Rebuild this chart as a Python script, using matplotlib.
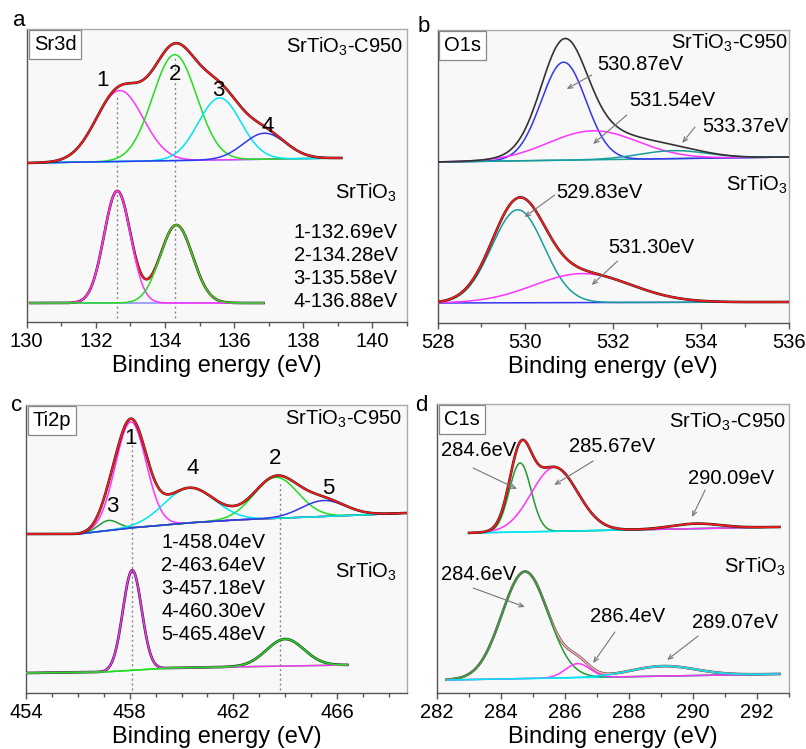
import numpy as np
import matplotlib
matplotlib.use('Agg')
import matplotlib.pyplot as plt
from matplotlib.ticker import MultipleLocator

plt.rcParams['font.family'] = ['Liberation Sans', 'DejaVu Sans']
plt.rcParams['mathtext.fontset'] = 'custom'
plt.rcParams['mathtext.rm'] = 'Liberation Sans'

# ---------------- data (peak parameters) ----------------
# Panel a : Sr3d
a_top_range = [130.0, 139.1]
a_top_bg_x = [130.0, 139.1]
a_top_bg_y = [159, 164]
a_top_centers = [132.69, 134.28, 135.58, 136.88]
a_top_heights = [71, 106, 62, 26]
a_top_fwhm = [1.6, 1.5, 1.45, 1.45]
a_bot_range = [130.1, 136.85]
a_bot_bg_x = [130.1, 136.85]
a_bot_bg_y = [19, 19]
a_bot_centers = [132.62, 134.33]
a_bot_heights = [112, 78]
a_bot_fwhm = [0.9, 1.1]
a_marks = [132.62, 134.3]
a_list = ['1-132.69eV', '2-134.28eV', '3-135.58eV', '4-136.88eV']

# Panel b : O1s
b_top_range = [528.0, 536.0]
b_top_bg_x = [528.0, 536.0]
b_top_bg_y = [161, 166]
b_top_centers = [530.87, 531.54, 533.37]
b_top_heights = [98, 29, 8]
b_top_fwhm = [1.2, 2.4, 1.8]
b_bot_range = [528.0, 536.0]
b_bot_bg_x = [528.0, 536.0]
b_bot_bg_y = [20, 21]
b_bot_centers = [529.83, 531.30]
b_bot_heights = [93, 29]
b_bot_fwhm = [1.4, 2.6]

# Panel c : Ti2p
c_top_range = [454.0, 468.7]
c_top_bg_x = [454.0, 456.0, 458.0, 460.2, 462.0, 466.0, 468.7]
c_top_bg_y = [159, 159, 165, 170, 173, 177, 180]
c_top_centers = [458.04, 463.64, 457.18, 460.30, 465.48]
c_top_heights = [106, 41, 10, 35, 16]
c_top_fwhm = [1.4, 2.0, 0.9, 2.3, 2.0]
c_bot_range = [454.0, 466.4]
c_bot_bg_x = [454.0, 457.0, 459.5, 466.4]
c_bot_bg_y = [20, 21, 25, 28]
c_bot_centers = [458.1, 464.0]
c_bot_heights = [100, 27]
c_bot_fwhm = [0.85, 1.7]
c_marks = [458.1, 463.8]
c_list = ['1-458.04eV', '2-463.64eV', '3-457.18eV', '4-460.30eV', '5-465.48eV']

# Panel d : C1s
d_top_range = [283.0, 292.7]
d_top_bg_x = [283.0, 292.7]
d_top_bg_y = [160, 166]
d_top_centers = [284.6, 285.67, 290.09]
d_top_heights = [69, 64, 5]
d_top_fwhm = [0.8, 1.7, 1.8]
d_bot_range = [282.3, 292.7]
d_bot_bg_x = [282.3, 292.7]
d_bot_bg_y = [13, 19]
d_bot_centers = [284.75, 286.4, 289.07]
d_bot_heights = [107, 14, 10]
d_bot_fwhm = [1.7, 0.9, 2.4]

# ---------------- styles ----------------
MAG = '#ff33ff'
GRN = '#22dd22'
DGRN = '#229a33'
CYN = '#00e5f0'
BLU = '#3535ee'
RED = '#ff1a1a'
TEAL = '#1a9c9c'
FS = 14.5
FS_LAB = 17
FS_NUM = 16

W, H = 806, 749
fig = plt.figure(figsize=(W / 100, H / 100), dpi=100)


def add_axes(l, r, t, b):
    return fig.add_axes([l / W, 1 - b / H, (r - l) / W, (b - t) / H])


def gauss(x, c, h, w):
    return h * np.exp(-4 * np.log(2) * (x - c) ** 2 / w ** 2)


def spectrum(ax, xr, bgx, bgy, centers, heights, fwhms, colors, bg_color,
             env_color=RED, raw_color='#222222', raw_lw=1.9, comp_top=False):
    x = np.linspace(xr[0], xr[1], 600)
    bg = np.interp(x, bgx, bgy)
    comps = [gauss(x, c, h, w) for c, h, w in zip(centers, heights, fwhms)]
    env = bg + np.sum(comps, axis=0)
    ax.plot(x, bg, color=bg_color, lw=1.1, zorder=2)
    z = 4 if comp_top else 3
    for comp, col in zip(comps, colors):
        ax.plot(x, bg + comp, color=col, lw=1.1, zorder=z)
    if raw_color:
        ax.plot(x, env, color=raw_color, lw=raw_lw, zorder=3.2)
    if env_color:
        ax.plot(x, env, color=env_color, lw=1.2, zorder=3.5)


def style(ax, xlim, ylim, major, minor, offset=0.0):
    ax.set_xlim(*xlim)
    ax.set_ylim(*ylim)
    ax.set_facecolor('#f8f8f8')
    ax.set_yticks([])
    ax.xaxis.set_major_locator(MultipleLocator(major, offset=offset))
    ax.xaxis.set_minor_locator(MultipleLocator(minor))
    ax.tick_params(axis='x', which='major', direction='out', length=4,
                   width=1, color='#555555', labelsize=FS, pad=3)
    ax.tick_params(axis='x', which='minor', direction='out', length=3,
                   width=1, color='#555555')
    for s in ['left', 'bottom']:
        ax.spines[s].set_color('#555555')
        ax.spines[s].set_linewidth(1.0)
    for s in ['top', 'right']:
        ax.spines[s].set_color('#aaaaaa')
        ax.spines[s].set_linewidth(1.0)
    ax.set_xlabel('Binding energy (eV)', fontsize=FS_LAB, labelpad=3)


def boxlabel(ax, s):
    ax.annotate(s, xy=(0, 1), xycoords='axes fraction', xytext=(5.0, -4.0),
                textcoords='offset points', ha='left', va='top', fontsize=FS,
                bbox=dict(boxstyle='square,pad=0.25', fc='white', ec='#888888', lw=0.9),
                zorder=10)


def arrow(ax, tail, tip):
    ax.annotate('', xy=tip, xytext=tail,
                arrowprops=dict(arrowstyle='->,head_length=0.35,head_width=0.15',
                                color='#777777', lw=0.8, shrinkA=0, shrinkB=0),
                zorder=6)


SUB_C950 = 'SrTiO$_\\mathregular{3}$-C950'
SUB = 'SrTiO$_\\mathregular{3}$'

# ---------------- panel a ----------------
ax = add_axes(26.7, 407, 29, 322)
style(ax, (130, 141), (0, 293), 2, 1)
spectrum(ax, a_top_range, a_top_bg_x, a_top_bg_y, a_top_centers, a_top_heights,
         a_top_fwhm, [MAG, GRN, CYN, BLU], CYN)
spectrum(ax, a_bot_range, a_bot_bg_x, a_bot_bg_y, a_bot_centers, a_bot_heights,
         a_bot_fwhm, [MAG, GRN], '#8888ff', comp_top=True)
ax.vlines(a_marks[0], 4, 225, colors='#888888', linestyles=(0, (1.5, 2)), lw=1, zorder=1)
ax.vlines(a_marks[1], 4, 265, colors='#888888', linestyles=(0, (1.5, 2)), lw=1, zorder=1)
for s, xx, yy in zip(['1', '2', '3', '4'], [132.18, 134.3, 135.55, 136.97], [242, 247, 232, 195]):
    ax.text(xx, yy, s, ha='center', va='center', fontsize=FS_NUM, zorder=7)
ax.text(140.88, 275, SUB_C950, ha='right', va='center', fontsize=FS)
ax.text(140.7, 129, SUB, ha='right', va='center', fontsize=FS)
for i, s in enumerate(a_list):
    ax.text(140.73, 90 - 23.3 * i, s, ha='right', va='center', fontsize=FS)
boxlabel(ax, 'Sr3d')

# ---------------- panel b ----------------
ax = add_axes(437.5, 789, 30, 323)
style(ax, (528, 536), (0, 293), 2, 1)
spectrum(ax, b_top_range, b_top_bg_x, b_top_bg_y, b_top_centers, b_top_heights,
         b_top_fwhm, [BLU, MAG, TEAL], TEAL, env_color=None, raw_color='#333333',
         raw_lw=1.2)
spectrum(ax, b_bot_range, b_bot_bg_x, b_bot_bg_y, b_bot_centers, b_bot_heights,
         b_bot_fwhm, [TEAL, MAG], BLU)
ax.text(535.97, 280, SUB_C950, ha='right', va='center', fontsize=FS)
ax.text(535.97, 138, SUB, ha='right', va='center', fontsize=FS)
ax.text(531.63, 259, '530.87eV', ha='left', va='center', fontsize=FS)
arrow(ax, (531.51, 248), (530.94, 234))
ax.text(532.36, 223, '531.54eV', ha='left', va='center', fontsize=FS)
arrow(ax, (532.31, 208), (531.54, 179))
ax.text(534.03, 197, '533.37eV', ha='left', va='center', fontsize=FS)
arrow(ax, (533.86, 196), (533.57, 180))
ax.text(530.71, 130, '529.83eV', ha='left', va='center', fontsize=FS)
arrow(ax, (530.67, 128), (529.98, 106))
ax.text(531.88, 76, '531.30eV', ha='left', va='center', fontsize=FS)
arrow(ax, (532.1, 62), (531.51, 38))
boxlabel(ax, 'O1s')

# ---------------- panel c ----------------
ax = add_axes(26, 407, 405, 693)
style(ax, (454, 468.7), (0, 288), 4, 1, offset=2)
spectrum(ax, c_top_range, c_top_bg_x, c_top_bg_y, c_top_centers, c_top_heights,
         c_top_fwhm, [MAG, GRN, DGRN, CYN, BLU], BLU)
spectrum(ax, c_bot_range, c_bot_bg_x, c_bot_bg_y, c_bot_centers, c_bot_heights,
         c_bot_fwhm, [MAG, GRN], GRN, env_color=None, comp_top=True)
ax.vlines(c_marks[0], 3, 251, colors='#888888', linestyles=(0, (1.5, 2)), lw=1, zorder=1)
ax.vlines(c_marks[1], 3, 210, colors='#888888', linestyles=(0, (1.5, 2)), lw=1, zorder=1)
for s, xx, yy in zip(['1', '3', '4', '2', '5'], [458.02, 457.32, 460.45, 463.61, 465.66],
                     [255, 187, 224, 234, 205]):
    ax.text(xx, yy, s, ha='center', va='center', fontsize=FS_NUM, zorder=7)
ax.text(468.52, 274, SUB_C950, ha='right', va='center', fontsize=FS)
ax.text(468.32, 121, SUB, ha='right', va='center', fontsize=FS)
for i, s in enumerate(c_list):
    ax.text(459.21, 150 - 22.8 * i, s, ha='left', va='center', fontsize=FS)
boxlabel(ax, 'Ti2p')

# ---------------- panel d ----------------
ax = add_axes(437, 789, 404, 693)
style(ax, (282, 293), (0, 289), 2, 1)
spectrum(ax, d_top_range, d_top_bg_x, d_top_bg_y, d_top_centers, d_top_heights,
         d_top_fwhm, [DGRN, MAG, CYN], CYN)
spectrum(ax, d_bot_range, d_bot_bg_x, d_bot_bg_y, d_bot_centers, d_bot_heights,
         d_bot_fwhm, [DGRN, MAG, CYN], CYN, env_color='#ffaaaa', raw_color='#333333',
         comp_top=True)
ax.text(292.9, 271, SUB_C950, ha='right', va='center', fontsize=FS)
ax.text(292.9, 126, SUB, ha='right', va='center', fontsize=FS)
ax.text(282.13, 243, '284.6eV', ha='left', va='center', fontsize=FS)
arrow(ax, (283.13, 225), (284.5, 204))
ax.text(286.13, 246, '285.67eV', ha='left', va='center', fontsize=FS)
arrow(ax, (286.88, 232), (285.66, 208))
ax.text(289.84, 215, '290.09eV', ha='left', va='center', fontsize=FS)
arrow(ax, (290.38, 203), (289.97, 176))
ax.text(282.13, 119, '284.6eV', ha='left', va='center', fontsize=FS)
arrow(ax, (283.13, 105), (284.75, 86))
ax.text(286.78, 76, '286.4eV', ha='left', va='center', fontsize=FS)
arrow(ax, (287.56, 61), (286.88, 30))
ax.text(289.97, 71, '289.07eV', ha='left', va='center', fontsize=FS)
arrow(ax, (290.16, 57), (289.19, 33))
boxlabel(ax, 'C1s')

# panel letters
for s, px, py in [('a', 19, 20), ('b', 424, 26), ('c', 17, 406), ('d', 421, 405)]:
    fig.text(px / W, 1 - py / H, s, ha='center', va='center', fontsize=16)

fig.savefig('out.png', dpi=100, facecolor='white')
